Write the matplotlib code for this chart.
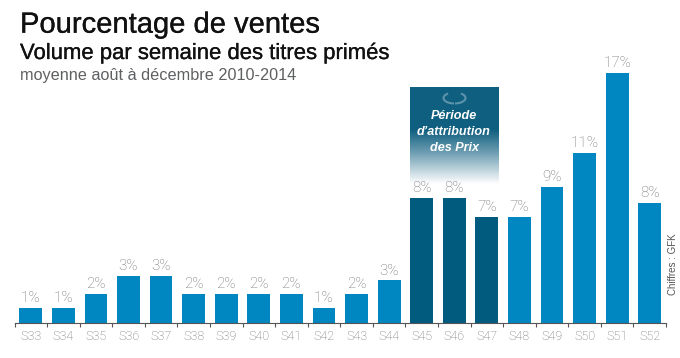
import numpy as np
import matplotlib
matplotlib.use("Agg")
import matplotlib.pyplot as plt
import matplotlib.patheffects as pe
from matplotlib.patches import Arc
from matplotlib.colors import LinearSegmentedColormap

plt.rcParams['font.family'] = ['Liberation Sans', 'DejaVu Sans']

weeks = ['S33','S34','S35','S36','S37','S38','S39','S40','S41','S42','S43','S44','S45','S46','S47','S48','S49','S50','S51','S52']
values = [1.0,1.0,2.0,3.2,3.2,2.0,2.0,2.0,2.0,1.0,2.0,2.9,8.5,8.5,7.2,7.2,9.25,11.55,17.0,8.15]
labels = ['1%','1%','2%','3%','3%','2%','2%','2%','2%','1%','2%','3%','8%','8%','7%','7%','9%','11%','17%','8%']
highlight = ['S45','S46','S47']

W, H = 680, 358
BLUE = '#0086c0'
DARK = '#005b7f'
GREY = '#6f7173'
LIGHT = dict(family=['Roboto', 'Liberation Sans'], fontweight='light')

fig = plt.figure(figsize=(W/100, H/100), dpi=100, facecolor='white')

# chart axes
left, right, base, top = 14.5, 666, 323, 58
ax = fig.add_axes([left/W, (H-base)/H, (right-left)/W, (base-top)/H], zorder=2)
ax.set_xlim(-0.5, len(weeks)-0.5)
ax.set_ylim(0, (base-top)/14.7)
x = np.arange(len(weeks))
colors = [DARK if w in highlight else BLUE for w in weeks]
ax.bar(x, values, width=0.7, color=colors, linewidth=0, zorder=2)
for xi, v, l in zip(x, values, labels):
    ax.annotate(l, (xi, v), xytext=(0, 4.2), textcoords='offset points', ha='center', va='baseline',
                fontsize=10.9, color=GREY, zorder=3, **LIGHT)
for s in ['top','left','right']:
    ax.spines[s].set_visible(False)
ax.spines['bottom'].set_color('#555555')
ax.spines['bottom'].set_linewidth(0.8)
ax.set_yticks([])
ax.set_xticks(np.arange(len(weeks)+1)-0.5)
ax.set_xticklabels([])
ax.set_xticks(x, minor=True)
ax.set_xticklabels(weeks, minor=True, fontsize=9, color=GREY, **LIGHT)
ax.tick_params(axis='x', which='major', direction='out', length=3, width=0.8, color='#555555')
ax.tick_params(axis='x', which='minor', length=0, pad=5)
ax.patch.set_alpha(0)

# overlay in pixel coordinates for the decoration
ov = fig.add_axes([0, 0, 1, 1], zorder=1)
ov.set_xlim(0, W)
ov.set_ylim(H, 0)
ov.axis('off')
cmap = LinearSegmentedColormap.from_list('fade', [(0, '#0f5f80'), (0.44, '#0f5f80'), (0.68, '#6f9fb3'), (1, '#ffffff')])
grad = np.linspace(0, 1, 256).reshape(-1, 1)
ov.imshow(grad, cmap=cmap, extent=[409.5, 498.5, 184, 87.5], aspect='auto', interpolation='bilinear')
ov.set_xlim(0, W)
ov.set_ylim(H, 0)
ov.add_patch(Arc((454.5, 98), 22, 11, theta1=95, theta2=215, color='#5d93ab', lw=1.5))
ov.add_patch(Arc((454.5, 98), 22, 11, theta1=-35, theta2=85, color='#5d93ab', lw=1.5))
for txt, yy in [('Période', 119), ('d’attribution', 135), ('des Prix', 151)]:
    ov.text(454, yy, txt, ha='center', va='baseline', fontsize=9.1, color='white', style='italic', fontweight='bold')

medium = [pe.withStroke(linewidth=0.2, foreground='#111111')]
ov.text(20, 32.7, 'Pourcentage de ventes', ha='left', va='baseline', fontsize=21, color='#111111', path_effects=medium)
ov.text(20, 59, 'Volume par semaine des titres primés', ha='left', va='baseline', fontsize=15.9, color='#111111', path_effects=medium)
ov.text(20, 80, 'moyenne août à décembre 2010-2014', ha='left', va='baseline', fontsize=11.7, color='#5f6062')
ov.text(673, 264.5, 'Chiffres : GFK', rotation=90, ha='center', va='center', fontsize=7, color='#555555')

fig.savefig('out.png', dpi=100, facecolor='white')
